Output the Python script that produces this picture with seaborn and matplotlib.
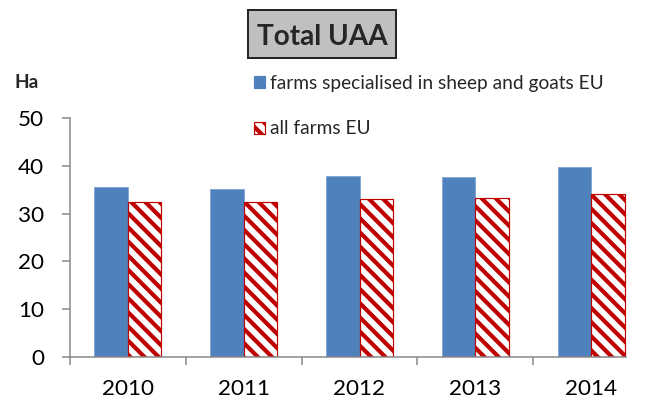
import matplotlib
matplotlib.use("Agg")
import matplotlib.pyplot as plt
from matplotlib.patches import Patch, Rectangle
import seaborn as sns
import pandas as pd

# Average utilised agricultural area per farm (ha)
years = ["2010", "2011", "2012", "2013", "2014"]
sheep_goats = [35.6, 35.1, 37.9, 37.7, 39.8]
all_farms = [32.5, 32.5, 33.0, 33.2, 34.0]
series_names = ["farms specialised in sheep and goats EU", "all farms EU"]
y_ticks = [0, 10, 20, 30, 40, 50]

DPI = 85
W, H = 646, 407


def pt(px):
    """Convert pixels to points at the figure dpi."""
    return px * 72 / DPI


BLUE = "#4f81bd"
RED = "#c00000"
AXIS_GREY = "#868686"
HATCH = "\\\\"

sns.set_style("white")
plt.rcParams["font.family"] = ["Lato", "DejaVu Sans"]
plt.rcParams["hatch.linewidth"] = pt(4.2)

df = pd.DataFrame({
    "year": years * 2,
    "value": sheep_goats + all_farms,
    "series": [series_names[0]] * len(years) + [series_names[1]] * len(years),
})

fig = plt.figure(figsize=(W / DPI, H / DPI), dpi=DPI)
ax = fig.add_axes([70 / W, (H - 357) / H, (649 - 70) / W, (357 - 118) / H])

sns.barplot(data=df, x="year", y="value", hue="series", hue_order=series_names,
            palette=[BLUE, "white"], saturation=1, width=0.58, ax=ax,
            legend=False, errorbar=None)

for bar in ax.containers[0]:
    bar.set_facecolor(BLUE)
    bar.set_edgecolor("#86a8d6")
    bar.set_linewidth(pt(1))
for bar in ax.containers[1]:
    bar.set_facecolor("white")
    bar.set_edgecolor(RED)
    bar.set_hatch(HATCH)
    bar.set_linewidth(pt(1.2))

ax.set_xlim(-0.5, 4.5)
ax.set_ylim(0, 50)
ax.set_yticks(y_ticks)
ax.set_xlabel("")
ax.set_ylabel("")

# category boundaries carry the tick marks, centres carry the labels
ax.set_xticks([-0.5, 0.5, 1.5, 2.5, 3.5])
ax.set_xticklabels([])
ax.set_xticks(range(len(years)), minor=True)
ax.set_xticklabels(years, minor=True)
ax.tick_params(axis="x", which="major", direction="out", length=pt(8),
               width=pt(1.5), color=AXIS_GREY, bottom=True)
ax.tick_params(axis="x", which="minor", length=0, pad=pt(22),
               labelsize=pt(22.5), labelcolor="black", bottom=True)
ax.tick_params(axis="y", direction="out", length=pt(8), width=pt(1.5),
               color=AXIS_GREY, pad=pt(18), labelsize=pt(22.5),
               labelcolor="black", left=True)

for side in ("top", "right"):
    ax.spines[side].set_visible(False)
for side in ("left", "bottom"):
    ax.spines[side].set_color(AXIS_GREY)
    ax.spines[side].set_linewidth(pt(1.5))
ax.spines["bottom"].set_bounds(-0.5, 4.3)

# boxed title
fig.patches.append(Rectangle((248 / W, 1 - 58 / H), 148 / W, 48 / H,
                             transform=fig.transFigure, facecolor="#c0c0c0",
                             edgecolor="#262626", linewidth=pt(2)))
fig.text(322 / W, 1 - 45 / H, "Total UAA", ha="center", va="baseline",
         fontsize=pt(28), fontweight="bold")

# unit label
fig.text(15 / W, 1 - 88 / H, "Ha", ha="left", va="baseline",
         fontsize=pt(19), fontweight="bold")

handles = [
    Patch(facecolor=BLUE, edgecolor=BLUE),
    Patch(facecolor="white", edgecolor=RED, hatch=HATCH, linewidth=pt(1.2)),
]
fig.legend(handles, series_names, loc="upper left",
           bbox_to_anchor=(254 / W, 1 - 75 / H), frameon=False,
           fontsize=pt(19.2), handlelength=0.58, handleheight=0.58,
           handletextpad=0.25, labelspacing=1.48, borderpad=0,
           borderaxespad=0)

fig.savefig("out.png", dpi=DPI)
